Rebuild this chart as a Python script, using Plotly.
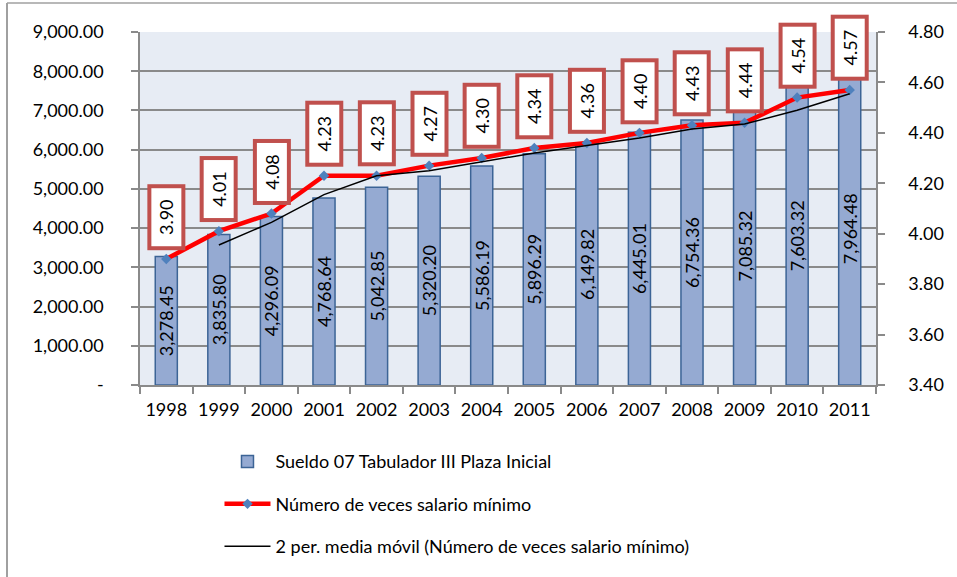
import plotly.graph_objects as go

# data
years = ["1998", "1999", "2000", "2001", "2002", "2003", "2004",
         "2005", "2006", "2007", "2008", "2009", "2010", "2011"]
sueldo = [3278.45, 3835.80, 4296.09, 4768.64, 5042.85, 5320.20, 5586.19,
          5896.29, 6149.82, 6445.01, 6754.36, 7085.32, 7603.32, 7964.48]
veces = [3.90, 4.01, 4.08, 4.23, 4.23, 4.27, 4.30,
         4.34, 4.36, 4.40, 4.43, 4.44, 4.54, 4.57]
media_movil = [None, 3.955, 4.045, 4.155, 4.23, 4.25, 4.285,
               4.32, 4.35, 4.38, 4.415, 4.435, 4.49, 4.555]

left_ticks = [0, 1000, 2000, 3000, 4000, 5000, 6000, 7000, 8000, 9000]
left_labels = ["-", "1,000.00", "2,000.00", "3,000.00", "4,000.00",
               "5,000.00", "6,000.00", "7,000.00", "8,000.00", "9,000.00"]
right_ticks = [3.4, 3.6, 3.8, 4.0, 4.2, 4.4, 4.6, 4.8]

FONT = "Lato, 'Open Sans', sans-serif"
GRID = "#8a8a8a"

fig = go.Figure()

fig.add_trace(go.Bar(
    x=years, y=sueldo,
    name="Sueldo 07 Tabulador III Plaza Inicial",
    legendgroup="a",
    width=0.42,
    marker=dict(color="#95AAD2", line=dict(color="#3C6496", width=1.5)),
    text=[f"{v:,.2f}" for v in sueldo],
    textposition="inside",
    insidetextanchor="middle",
    textangle=-90,
    constraintext="none",
    textfont=dict(family=FONT, size=18, color="black"),
    hoverinfo="skip",
))

fig.add_trace(go.Scatter(
    x=years, y=veces, yaxis="y2",
    name="Número de veces salario mínimo",
    legendgroup="b",
    mode="lines+markers",
    line=dict(color="#FF0000", width=4.5),
    marker=dict(symbol="diamond", size=8, color="#4F81BD"),
))

fig.add_trace(go.Scatter(
    x=years, y=media_movil, yaxis="y2",
    name="2 per. media móvil (Número de veces salario mínimo)",
    legendgroup="c",
    mode="lines",
    line=dict(color="black", width=1.5),
))

# boxed, rotated labels above the red line (x given as category index)
for i, v in enumerate(veces):
    fig.add_annotation(
        x=i, y=v, xref="x", yref="y2",
        text=f"{v:.2f}", showarrow=False,
        textangle=-90, yanchor="bottom", yshift=9,
        width=54, height=26,
        bgcolor="white", bordercolor="#C0504D", borderwidth=4, borderpad=2,
        font=dict(family=FONT, size=18, color="black"),
    )

# outer chart border (only left and top edges are visible in the original)
fig.add_shape(type="line", xref="paper", yref="paper",
              x0=-0.1807, x1=-0.1807, y0=-0.6, y1=1.082,
              line=dict(color="#a0a0a0", width=2))
fig.add_shape(type="line", xref="paper", yref="paper",
              x0=-0.1807, x1=1.2, y0=1.082, y1=1.082,
              line=dict(color="#a0a0a0", width=1.5))

fig.update_layout(
    width=957, height=577,
    margin=dict(l=140, r=81, t=32, b=192),
    paper_bgcolor="white",
    plot_bgcolor="#E7ECF4",
    font=dict(family=FONT, size=18, color="black"),
    bargap=0.5,
    showlegend=True,
    legend=dict(
        x=0.108, y=-0.165, xanchor="left", yanchor="top",
        orientation="v", tracegroupgap=16, itemwidth=46,
        font=dict(family=FONT, size=18, color="black"),
        bgcolor="rgba(0,0,0,0)",
    ),
    xaxis=dict(
        type="category", range=[-0.5, 13.5],
        showline=True, linecolor=GRID, linewidth=1.5,
        ticks="outside", tickson="boundaries", ticklen=7, tickcolor=GRID, tickwidth=1.5,
        tickangle=0, ticklabelstandoff=8,
        showgrid=False, mirror=False,
    ),
    yaxis=dict(
        range=[0, 9000],
        tickvals=left_ticks, ticktext=left_labels,
        showline=True, linecolor=GRID, linewidth=1.5,
        ticks="outside", ticklen=7, tickcolor=GRID, tickwidth=1.5,
        ticklabelstandoff=24,
        showgrid=True, gridcolor=GRID, gridwidth=1.5,
        zeroline=False,
    ),
    yaxis2=dict(
        overlaying="y", side="right",
        range=[3.4, 4.8], tickvals=right_ticks, tickformat=".2f",
        showline=True, linecolor=GRID, linewidth=1.5,
        ticks="outside", ticklen=7, tickcolor=GRID, tickwidth=1.5,
        ticklabelstandoff=20,
        showgrid=False, zeroline=False,
    ),
)

# drop the default page margin so the figure fills the window exactly
fig.write_html(
    "out.html",
    config={"displayModeBar": False},
    post_script="document.body.style.margin='0';document.body.style.overflow='hidden';",
)
